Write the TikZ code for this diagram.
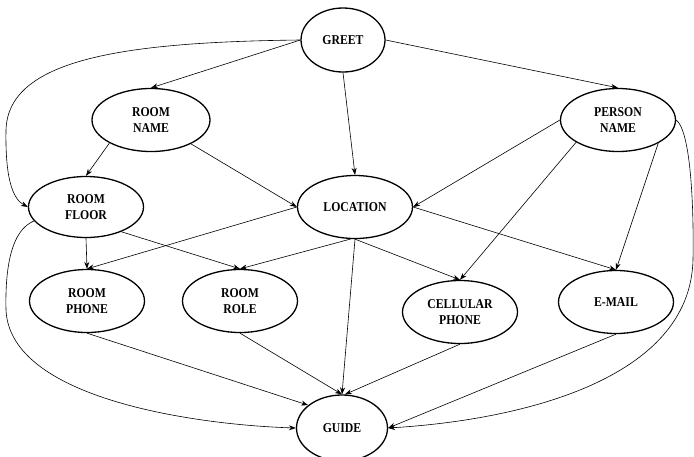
\documentclass[tikz,border=0pt]{standalone}
\usepackage{fontspec}
\newfontfamily\statefont[FakeStretch=0.87]{Liberation Serif}
\usepackage{tikz}
\usetikzlibrary{shapes.geometric,arrows.meta}

\begin{document}
\begin{tikzpicture}[x = 1pt, y = -1pt,
    state/.style = {ellipse, draw, line width = 1.3pt, minimum width = 115pt, minimum height = 63pt, inner sep = 0pt, align = center, font = \fontsize{13.5}{16}\statefont\bfseries},
    link/.style = {-{Stealth[length = 7pt, width = 5pt]}, line width = 0.6pt}]
    \useasboundingbox (0, 0) rectangle (694, 456);
    % TOP ROWS
    \node[state, minimum width = 84pt, minimum height = 64pt] (greet) at (343, 40) {GREET};
    \node[state, minimum width = 118pt] (roomname) at (151, 120) {ROOM\\NAME};
    \node[state] (personname) at (618, 120) {PERSON\\NAME};
    \node[state, minimum height = 61pt] (roomfloor) at (86, 207) {ROOM\\FLOOR};
    \node[state] (location) at (355, 207) {LOCATION};
    % LOWER ROWS
    \node[state] (roomphone) at (87, 301) {ROOM\\PHONE};
    \node[state] (roomrole) at (240, 301) {ROOM\\ROLE};
    \node[state] (cellular) at (460, 312) {CELLULAR\\PHONE};
    \node[state] (email) at (616, 302) {E-MAIL};
    \node[state, minimum width = 91pt, minimum height = 66pt] (guide) at (342, 428) {GUIDE};
    % LINKS FROM GREET
    \draw[link] (greet.west) -- (roomname.north);
    \draw[link] (greet.east) -- (personname.north);
    \draw[link] (greet.south) -- (location.north);
    \draw[link] (greet.west) .. controls (120, 42) and (8, 60) .. (6, 130) .. controls (5, 185) and (15, 200) .. (roomfloor.west);
    % LINKS FROM NAMES
    \draw[link] (roomname.209) -- (roomfloor.north);
    \draw[link] (roomname) -- (location.west);
    \draw[link] (personname.west) -- (location.east);
    \draw[link] (personname.208) -- (cellular.north);
    \draw[link] (personname.330) -- (email.north);
    \draw[link] (personname.east) .. controls (690, 130) and (694, 200) .. (693, 260) .. controls (690, 380) and (520, 420) .. (guide.east);
    % LINKS FROM FLOOR AND LOCATION
    \draw[link] (roomfloor.south) -- (roomphone.north);
    \draw[link] (roomfloor.325) -- (roomrole.north);
    \draw[link] (roomfloor.195) .. controls (12, 230) and (5, 265) .. (6, 310) .. controls (10, 400) and (200, 425) .. (guide.west);
    \draw[link] (location.west) -- (roomphone.north);
    \draw[link] (location.262) -- (roomrole.north);
    \draw[link] (location.south) -- (cellular.north);
    \draw[link] (location.east) -- (email.north);
    \draw[link] (location.south) -- (guide.north);
    % LINKS TO GUIDE
    \draw[link] (roomphone.south) -- (guide.146);
    \draw[link] (roomrole.south) -- (guide.north);
    \draw[link] (cellular.south) -- (guide.85);
    \draw[link] (email.south) -- (guide.east);
\end{tikzpicture}
\end{document}
